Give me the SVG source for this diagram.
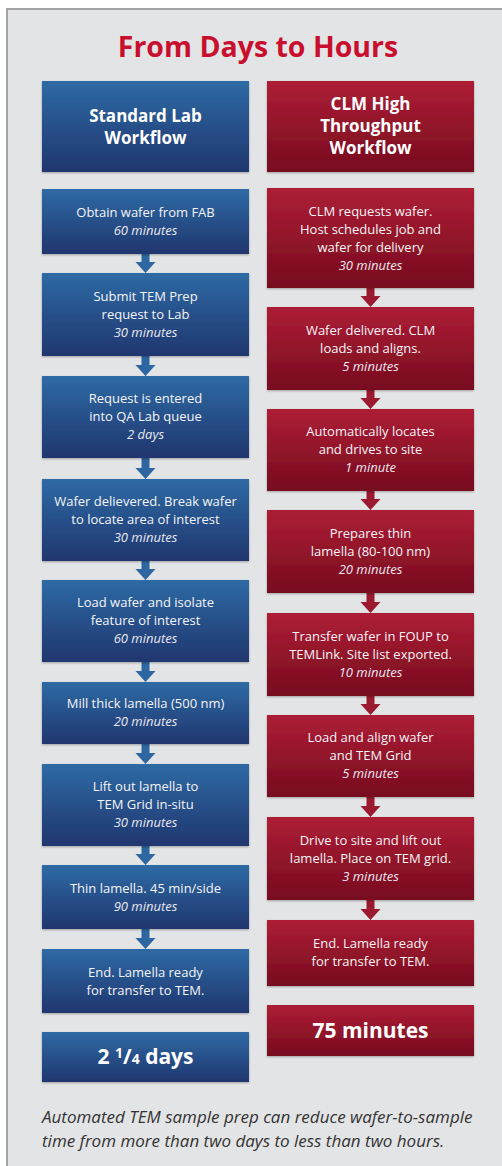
<svg xmlns="http://www.w3.org/2000/svg" width="502" height="1166" viewBox="0 0 502 1166">
<defs>
<linearGradient id="gBlue" x1="0" y1="0" x2="0" y2="1">
<stop offset="0" stop-color="#2e6aa4"/>
<stop offset="1" stop-color="#20366f"/>
</linearGradient>
<linearGradient id="gRed" x1="0" y1="0" x2="0" y2="1">
<stop offset="0" stop-color="#ad1e35"/>
<stop offset="1" stop-color="#770b1f"/>
</linearGradient>
<filter id="sh" x="-5%" y="-5%" width="110%" height="115%">
<feDropShadow dx="0" dy="1" stdDeviation="1" flood-color="#000" flood-opacity="0.3"/>
</filter>
<path id="arr" d="M-4,-22 H4 V-11 H10 L0,0 L-10,-11 H-4 Z"/>
<style>
.blue{fill:url(#gBlue);filter:url(#sh)}
.red{fill:url(#gRed);filter:url(#sh)}
.ab{fill:#2d66a0}
.ar{fill:#9c1a2f}
text{font-family:"Open Sans","Liberation Sans",sans-serif;fill:#f4f4f6;text-anchor:middle}
.t{font-size:13px}
.i{font-size:13px;font-style:italic;fill:#e8e8ee}
.h{font-size:17px;font-weight:bold;fill:#ffffff}
.big{font-size:21px;font-weight:bold;fill:#ffffff}
.title{font-size:28.5px;font-weight:bold;fill:#c8102e}
.cap{font-size:17px;font-style:italic;fill:#333333;text-anchor:start}
</style>
</defs>
<rect x="0" y="0" width="502" height="1166" fill="#ffffff"/>
<rect x="7" y="9" width="520" height="1200" fill="#e3e4e6" stroke="#a3a3a5" stroke-width="2"/>
<text class="title" x="258" y="57">From Days to Hours</text>

<g id="connectors">
<use href="#arr" class="ab" x="145.5" y="273"/>
<use href="#arr" class="ab" x="145.5" y="376"/>
<use href="#arr" class="ab" x="145.5" y="479"/>
<use href="#arr" class="ab" x="145.5" y="580"/>
<use href="#arr" class="ab" x="145.5" y="682"/>
<use href="#arr" class="ab" x="145.5" y="764"/>
<use href="#arr" class="ab" x="145.5" y="865"/>
<use href="#arr" class="ab" x="145.5" y="949"/>
<use href="#arr" class="ar" x="370.5" y="307"/>
<use href="#arr" class="ar" x="370.5" y="409"/>
<use href="#arr" class="ar" x="370.5" y="510"/>
<use href="#arr" class="ar" x="370.5" y="613"/>
<use href="#arr" class="ar" x="370.5" y="715"/>
<use href="#arr" class="ar" x="370.5" y="817"/>
<use href="#arr" class="ar" x="370.5" y="920"/>
</g>

<g id="std-header"><rect class="blue" x="42" y="81" width="207" height="91"/>
<text class="h" x="145.5" y="122">Standard Lab</text><text class="h" x="145.5" y="144">Workflow</text></g>
<g id="clm-header"><rect class="red" x="267" y="81" width="207" height="91"/>
<text class="h" x="370.5" y="110">CLM High</text><text class="h" x="370.5" y="132">Throughput</text><text class="h" x="370.5" y="154">Workflow</text></g>

<g id="s1"><rect class="blue" x="42" y="189" width="207" height="65"/>
<text class="t" x="145.5" y="217">Obtain wafer from FAB</text><text class="i" x="145.5" y="235">60 minutes</text></g>
<g id="s2"><rect class="blue" x="42" y="273" width="207" height="83"/>
<text class="t" x="145.5" y="301">Submit TEM Prep</text><text class="t" x="145.5" y="319">request to Lab</text><text class="i" x="145.5" y="337">30 minutes</text></g>
<g id="s3"><rect class="blue" x="42" y="376" width="207" height="82"/>
<text class="t" x="145.5" y="403">Request is entered</text><text class="t" x="145.5" y="421">into QA Lab queue</text><text class="i" x="145.5" y="439">2 days</text></g>
<g id="s4"><rect class="blue" x="42" y="479" width="207" height="82"/>
<text class="t" x="145.5" y="506">Wafer delievered. Break wafer</text><text class="t" x="145.5" y="524">to locate area of interest</text><text class="i" x="145.5" y="542">30 minutes</text></g>
<g id="s5"><rect class="blue" x="42" y="580" width="207" height="82"/>
<text class="t" x="145.5" y="607">Load wafer and isolate</text><text class="t" x="145.5" y="625">feature of interest</text><text class="i" x="145.5" y="643">60 minutes</text></g>
<g id="s6"><rect class="blue" x="42" y="682" width="207" height="62"/>
<text class="t" x="145.5" y="708">Mill thick lamella (500 nm)</text><text class="i" x="145.5" y="726">20 minutes</text></g>
<g id="s7"><rect class="blue" x="42" y="764" width="207" height="82"/>
<text class="t" x="145.5" y="791">Lift out lamella to</text><text class="t" x="145.5" y="809">TEM Grid in-situ</text><text class="i" x="145.5" y="827">30 minutes</text></g>
<g id="s8"><rect class="blue" x="42" y="865" width="207" height="64"/>
<text class="t" x="145.5" y="893">Thin lamella. 45 min/side</text><text class="i" x="145.5" y="911">90 minutes</text></g>
<g id="s9"><rect class="blue" x="42" y="949" width="207" height="64"/>
<text class="t" x="145.5" y="977">End. Lamella ready</text><text class="t" x="145.5" y="995">for transfer to TEM.</text></g>
<g id="s-total"><rect class="blue" x="42" y="1032" width="207" height="50"/>
<text class="big" x="145.5" y="1064">2 <tspan font-size="14" dy="-6">1</tspan><tspan dy="6">/</tspan><tspan font-size="14">4</tspan> days</text></g>

<g id="c1"><rect class="red" x="267" y="188" width="207" height="100"/>
<text class="t" x="370.5" y="216">CLM requests wafer.</text><text class="t" x="370.5" y="234">Host schedules job and</text><text class="t" x="370.5" y="252">wafer for delivery</text><text class="i" x="370.5" y="270">30 minutes</text></g>
<g id="c2"><rect class="red" x="267" y="307" width="207" height="83"/>
<text class="t" x="370.5" y="335">Wafer delivered. CLM</text><text class="t" x="370.5" y="353">loads and aligns.</text><text class="i" x="370.5" y="371">5 minutes</text></g>
<g id="c3"><rect class="red" x="267" y="409" width="207" height="82"/>
<text class="t" x="370.5" y="436">Automatically locates</text><text class="t" x="370.5" y="454">and drives to site</text><text class="i" x="370.5" y="472">1 minute</text></g>
<g id="c4"><rect class="red" x="267" y="510" width="207" height="83"/>
<text class="t" x="370.5" y="538">Prepares thin</text><text class="t" x="370.5" y="556">lamella (80-100 nm)</text><text class="i" x="370.5" y="574">20 minutes</text></g>
<g id="c5"><rect class="red" x="267" y="613" width="207" height="83"/>
<text class="t" x="370.5" y="641">Transfer wafer in FOUP to</text><text class="t" x="370.5" y="659">TEMLink. Site list exported.</text><text class="i" x="370.5" y="677">10 minutes</text></g>
<g id="c6"><rect class="red" x="267" y="715" width="207" height="82"/>
<text class="t" x="370.5" y="742">Load and align wafer</text><text class="t" x="370.5" y="760">and TEM Grid</text><text class="i" x="370.5" y="778">5 minutes</text></g>
<g id="c7"><rect class="red" x="267" y="817" width="207" height="83"/>
<text class="t" x="370.5" y="845">Drive to site and lift out</text><text class="t" x="370.5" y="863">lamella. Place on TEM grid.</text><text class="i" x="370.5" y="881">3 minutes</text></g>
<g id="c8"><rect class="red" x="267" y="920" width="207" height="66"/>
<text class="t" x="370.5" y="948">End. Lamella ready</text><text class="t" x="370.5" y="966">for transfer to TEM.</text></g>
<g id="c-total"><rect class="red" x="267" y="1005" width="207" height="51"/>
<text class="big" x="370.5" y="1038">75 minutes</text></g>

<g id="caption">
<text class="cap" x="42" y="1123">Automated TEM sample prep can reduce wafer-to-sample</text>
<text class="cap" x="42" y="1147">time from more than two days to less than two hours.</text>
</g>
</svg>
